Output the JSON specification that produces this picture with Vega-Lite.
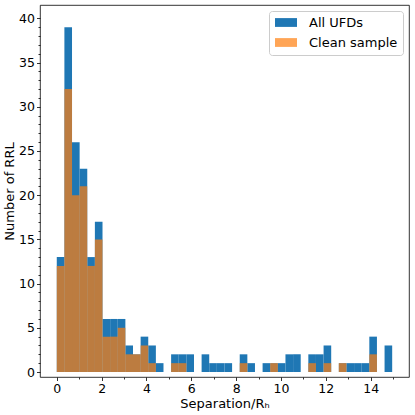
{
  "$schema": "https://vega.github.io/schema/vega-lite/v6.json",
  "autosize": {"type": "none"},
  "padding": {"left": 40, "top": 5, "right": 6, "bottom": 38},
  "width": 369,
  "height": 372,
  "config": {
    "font": "DejaVu Sans",
    "view": {"stroke": "#000000", "strokeWidth": 0.8},
    "axis": {
      "grid": false,
      "domain": false,
      "tickColor": "#000000",
      "tickWidth": 0.8,
      "labelColor": "#000000",
      "labelFont": "DejaVu Sans",
      "labelFontSize": 12.5,
      "titleFont": "DejaVu Sans",
      "titleFontSize": 13,
      "titleFontWeight": "normal",
      "titleColor": "#000000"
    }
  },
  "data": {
    "values": [
      {"bin_start": 0.00, "bin_end": 0.34, "count": 13, "sample": "All UFDs"},
      {"bin_start": 0.34, "bin_end": 0.68, "count": 39, "sample": "All UFDs"},
      {"bin_start": 0.68, "bin_end": 1.02, "count": 26, "sample": "All UFDs"},
      {"bin_start": 1.02, "bin_end": 1.36, "count": 23, "sample": "All UFDs"},
      {"bin_start": 1.36, "bin_end": 1.70, "count": 13, "sample": "All UFDs"},
      {"bin_start": 1.70, "bin_end": 2.04, "count": 17, "sample": "All UFDs"},
      {"bin_start": 2.04, "bin_end": 2.38, "count": 6, "sample": "All UFDs"},
      {"bin_start": 2.38, "bin_end": 2.72, "count": 6, "sample": "All UFDs"},
      {"bin_start": 2.72, "bin_end": 3.06, "count": 6, "sample": "All UFDs"},
      {"bin_start": 3.06, "bin_end": 3.40, "count": 3, "sample": "All UFDs"},
      {"bin_start": 3.40, "bin_end": 3.74, "count": 2, "sample": "All UFDs"},
      {"bin_start": 3.74, "bin_end": 4.08, "count": 4, "sample": "All UFDs"},
      {"bin_start": 4.08, "bin_end": 4.42, "count": 3, "sample": "All UFDs"},
      {"bin_start": 4.42, "bin_end": 4.76, "count": 1, "sample": "All UFDs"},
      {"bin_start": 5.10, "bin_end": 5.44, "count": 2, "sample": "All UFDs"},
      {"bin_start": 5.44, "bin_end": 5.78, "count": 2, "sample": "All UFDs"},
      {"bin_start": 5.78, "bin_end": 6.12, "count": 2, "sample": "All UFDs"},
      {"bin_start": 6.46, "bin_end": 6.80, "count": 2, "sample": "All UFDs"},
      {"bin_start": 6.80, "bin_end": 7.14, "count": 1, "sample": "All UFDs"},
      {"bin_start": 7.14, "bin_end": 7.48, "count": 1, "sample": "All UFDs"},
      {"bin_start": 7.48, "bin_end": 7.82, "count": 1, "sample": "All UFDs"},
      {"bin_start": 8.16, "bin_end": 8.50, "count": 2, "sample": "All UFDs"},
      {"bin_start": 8.50, "bin_end": 8.84, "count": 1, "sample": "All UFDs"},
      {"bin_start": 9.18, "bin_end": 9.52, "count": 1, "sample": "All UFDs"},
      {"bin_start": 9.52, "bin_end": 9.86, "count": 1, "sample": "All UFDs"},
      {"bin_start": 9.86, "bin_end": 10.20, "count": 1, "sample": "All UFDs"},
      {"bin_start": 10.20, "bin_end": 10.54, "count": 2, "sample": "All UFDs"},
      {"bin_start": 10.54, "bin_end": 10.88, "count": 2, "sample": "All UFDs"},
      {"bin_start": 11.22, "bin_end": 11.56, "count": 2, "sample": "All UFDs"},
      {"bin_start": 11.56, "bin_end": 11.90, "count": 2, "sample": "All UFDs"},
      {"bin_start": 11.90, "bin_end": 12.24, "count": 3, "sample": "All UFDs"},
      {"bin_start": 12.58, "bin_end": 12.92, "count": 1, "sample": "All UFDs"},
      {"bin_start": 12.92, "bin_end": 13.26, "count": 1, "sample": "All UFDs"},
      {"bin_start": 13.26, "bin_end": 13.60, "count": 1, "sample": "All UFDs"},
      {"bin_start": 13.60, "bin_end": 13.94, "count": 1, "sample": "All UFDs"},
      {"bin_start": 13.94, "bin_end": 14.28, "count": 4, "sample": "All UFDs"},
      {"bin_start": 14.62, "bin_end": 14.96, "count": 3, "sample": "All UFDs"},
      {"bin_start": 0.00, "bin_end": 0.34, "count": 12, "sample": "Clean sample"},
      {"bin_start": 0.34, "bin_end": 0.68, "count": 32, "sample": "Clean sample"},
      {"bin_start": 0.68, "bin_end": 1.02, "count": 20, "sample": "Clean sample"},
      {"bin_start": 1.02, "bin_end": 1.36, "count": 21, "sample": "Clean sample"},
      {"bin_start": 1.36, "bin_end": 1.70, "count": 12, "sample": "Clean sample"},
      {"bin_start": 1.70, "bin_end": 2.04, "count": 15, "sample": "Clean sample"},
      {"bin_start": 2.04, "bin_end": 2.38, "count": 4, "sample": "Clean sample"},
      {"bin_start": 2.38, "bin_end": 2.72, "count": 4, "sample": "Clean sample"},
      {"bin_start": 2.72, "bin_end": 3.06, "count": 5, "sample": "Clean sample"},
      {"bin_start": 3.06, "bin_end": 3.40, "count": 2, "sample": "Clean sample"},
      {"bin_start": 3.40, "bin_end": 3.74, "count": 2, "sample": "Clean sample"},
      {"bin_start": 3.74, "bin_end": 4.08, "count": 3, "sample": "Clean sample"},
      {"bin_start": 4.08, "bin_end": 4.42, "count": 1, "sample": "Clean sample"},
      {"bin_start": 5.10, "bin_end": 5.44, "count": 1, "sample": "Clean sample"},
      {"bin_start": 5.44, "bin_end": 5.78, "count": 1, "sample": "Clean sample"},
      {"bin_start": 8.16, "bin_end": 8.50, "count": 1, "sample": "Clean sample"},
      {"bin_start": 9.52, "bin_end": 9.86, "count": 1, "sample": "Clean sample"},
      {"bin_start": 11.22, "bin_end": 11.56, "count": 1, "sample": "Clean sample"},
      {"bin_start": 11.90, "bin_end": 12.24, "count": 1, "sample": "Clean sample"},
      {"bin_start": 12.58, "bin_end": 12.92, "count": 1, "sample": "Clean sample"},
      {"bin_start": 13.94, "bin_end": 14.28, "count": 2, "sample": "Clean sample"}
    ]
  },
  "resolve": {"axis": {"x": "independent", "y": "independent"}},
  "layer": [
    {
      "mark": {"type": "bar", "strokeWidth": 0},
      "encoding": {
        "x": {
          "field": "bin_start", "type": "quantitative",
          "scale": {"domain": [-0.748, 15.71], "nice": false, "zero": false},
          "axis": {"orient": "bottom", "values": [0, 2, 4, 6, 8, 10, 12, 14], "tickSize": 3.5, "labelPadding": 2, "title": "Separation/Rₕ", "titlePadding": 2, "labelFlush": false}
        },
        "x2": {"field": "bin_end"},
        "y": {
          "field": "count", "type": "quantitative",
          "scale": {"domain": [0, 40.95], "nice": false},
          "axis": {"orient": "left", "values": [0, 5, 10, 15, 20, 25, 30, 35, 40], "tickSize": 3.5, "labelPadding": 2, "title": "Number of RRL", "titlePadding": 2, "labelFlush": false}
        },
        "y2": {"datum": 0},
        "color": {
          "field": "sample", "type": "nominal",
          "scale": {"domain": ["All UFDs", "Clean sample"], "range": ["#1f77b4", "#ff7f0e"]},
          "legend": {
            "title": null,
            "orient": "top-right",
            "offset": 6,
            "fillColor": "rgba(255,255,255,0.8)",
            "strokeColor": "#cccccc",
            "cornerRadius": 3,
            "padding": 5,
            "labelFontSize": 13,
            "labelFont": "DejaVu Sans",
            "labelColor": "#000000",
            "symbolType": "M-1,-0.8H3V0.8H-1Z",
            "symbolSize": 121,
            "symbolStrokeWidth": 0,
            "rowPadding": 6,
            "labelOffset": 22
          }
        },
        "opacity": {
          "field": "sample", "type": "nominal",
          "scale": {"domain": ["All UFDs", "Clean sample"], "range": [1, 0.7]},
          "legend": null
        }
      }
    },
    {
      "mark": {"type": "bar", "opacity": 0},
      "encoding": {
        "x": {
          "field": "bin_start", "type": "quantitative",
          "axis": {"orient": "bottom", "values": [1, 3, 5, 7, 9, 11, 13, 15], "tickSize": 2, "labels": false, "title": null}
        },
        "x2": {"field": "bin_end"},
        "y": {
          "field": "count", "type": "quantitative",
          "axis": {"orient": "left", "values": [1,2,3,4,6,7,8,9,11,12,13,14,16,17,18,19,21,22,23,24,26,27,28,29,31,32,33,34,36,37,38,39], "tickSize": 2, "labels": false, "title": null}
        }
      }
    }
  ]
}
